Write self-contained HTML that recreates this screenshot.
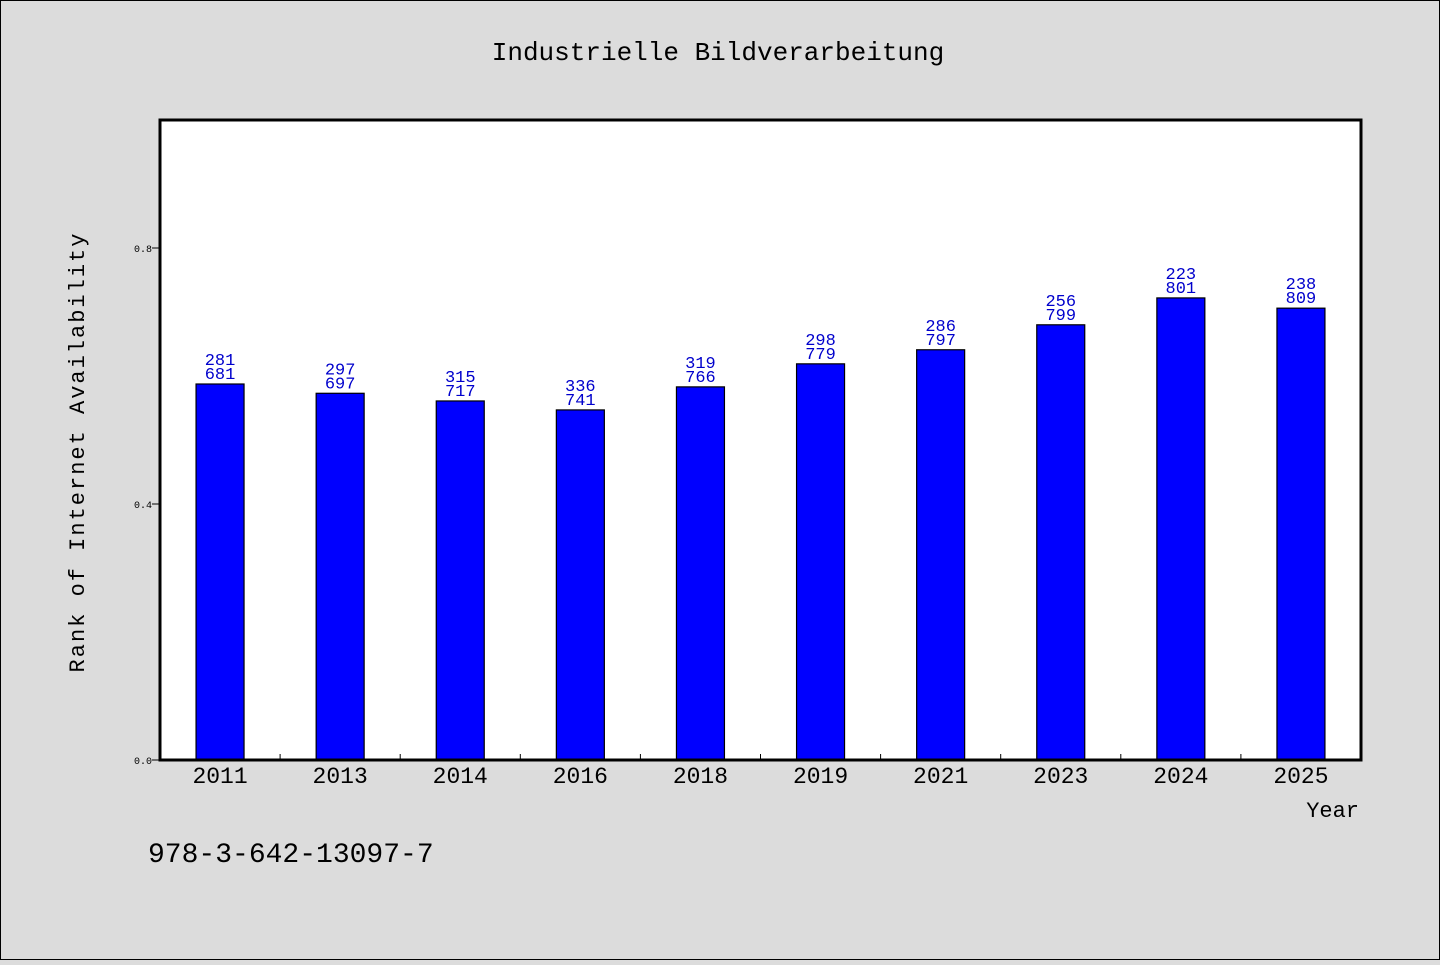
<!DOCTYPE html>
<html><head><meta charset="utf-8"><style>
body{margin:0;background:#dcdcdc;}
svg text{font-family:"WenQuanYi Zen Hei","Liberation Mono",monospace;}
</style></head><body>
<svg width="1440" height="960" xmlns="http://www.w3.org/2000/svg">
<rect x="0.5" y="0.5" width="1439" height="959" fill="#dcdcdc" stroke="#000"/>
<text x="718" y="60" font-size="26" text-anchor="middle">Industrielle Bildverarbeitung</text>
<rect x="160" y="120" width="1201" height="640" fill="#fff"/>
<g id="bars"></g>
<rect x="160" y="120" width="1201" height="640" fill="none" stroke="#000" stroke-width="3"/>
<g id="axes"></g>
<text transform="translate(84,452) rotate(-90)" font-size="22" text-anchor="middle" letter-spacing="2">Rank of Internet Availability</text>
<text x="1359" y="817" font-size="22" text-anchor="end">Year</text>
<text x="148" y="862" font-size="28">978-3-642-13097-7</text>
</svg>
<script>
const categories=["2011","2013","2014","2016","2018","2019","2021","2023","2024","2025"];
const values=[0.5875,0.573,0.561,0.547,0.583,0.619,0.641,0.680,0.722,0.706];
const labelTop=["281","297","315","336","319","298","286","256","223","238"];
const labelBottom=["681","697","717","741","766","779","797","799","801","809"];
const yTicks=[0.0,0.4,0.8];
const NS="http://www.w3.org/2000/svg";
const x0=160,x1=1361,yb=760,yt=120,yMax=1.0;
const slot=(x1-x0)/categories.length;
const xc=i=>x0+slot*(i+0.5);
const ys=v=>yb-(v/yMax)*(yb-yt);
const bars=document.getElementById('bars'),axes=document.getElementById('axes');
function mk(tag,attrs,parent){const e=document.createElementNS(NS,tag);for(const k in attrs)e.setAttribute(k,attrs[k]);parent.appendChild(e);return e;}
categories.forEach((c,i)=>{
  const r=mk('rect',{x:xc(i)-24,y:ys(values[i]),width:48,height:yb-ys(values[i]),fill:'#0000ff',stroke:'#000','stroke-width':1.2},bars);
  
  
  const t1=mk('text',{x:xc(i),y:ys(values[i])-19,'font-size':17,fill:'#0000cc','text-anchor':'middle'},bars);
  t1.textContent=labelTop[i];
  
  
  const t2=mk('text',{x:xc(i),y:ys(values[i])-5,'font-size':17,fill:'#0000cc','text-anchor':'middle'},bars);
  t2.textContent=labelBottom[i];
  
  
  const xl=mk('text',{x:xc(i),y:783,'font-size':23,'text-anchor':'middle'},axes);
  xl.textContent=c;
  
  
  if(i>0){const tk=mk('line',{x1:x0+slot*i,x2:x0+slot*i,y1:yb,y2:yb-6,stroke:'#000'},axes);
  
  }
});
yTicks.forEach(v=>{
  const tk=mk('line',{x1:x0,x2:x0-8,y1:ys(v),y2:ys(v),stroke:'#000'},axes);
  
  
  const tl=mk('text',{x:x0-8,y:ys(v)+4,'font-size':10,'text-anchor':'end'},axes);
  tl.textContent=v.toFixed(1);
  
  
});
</script>
</body></html>
